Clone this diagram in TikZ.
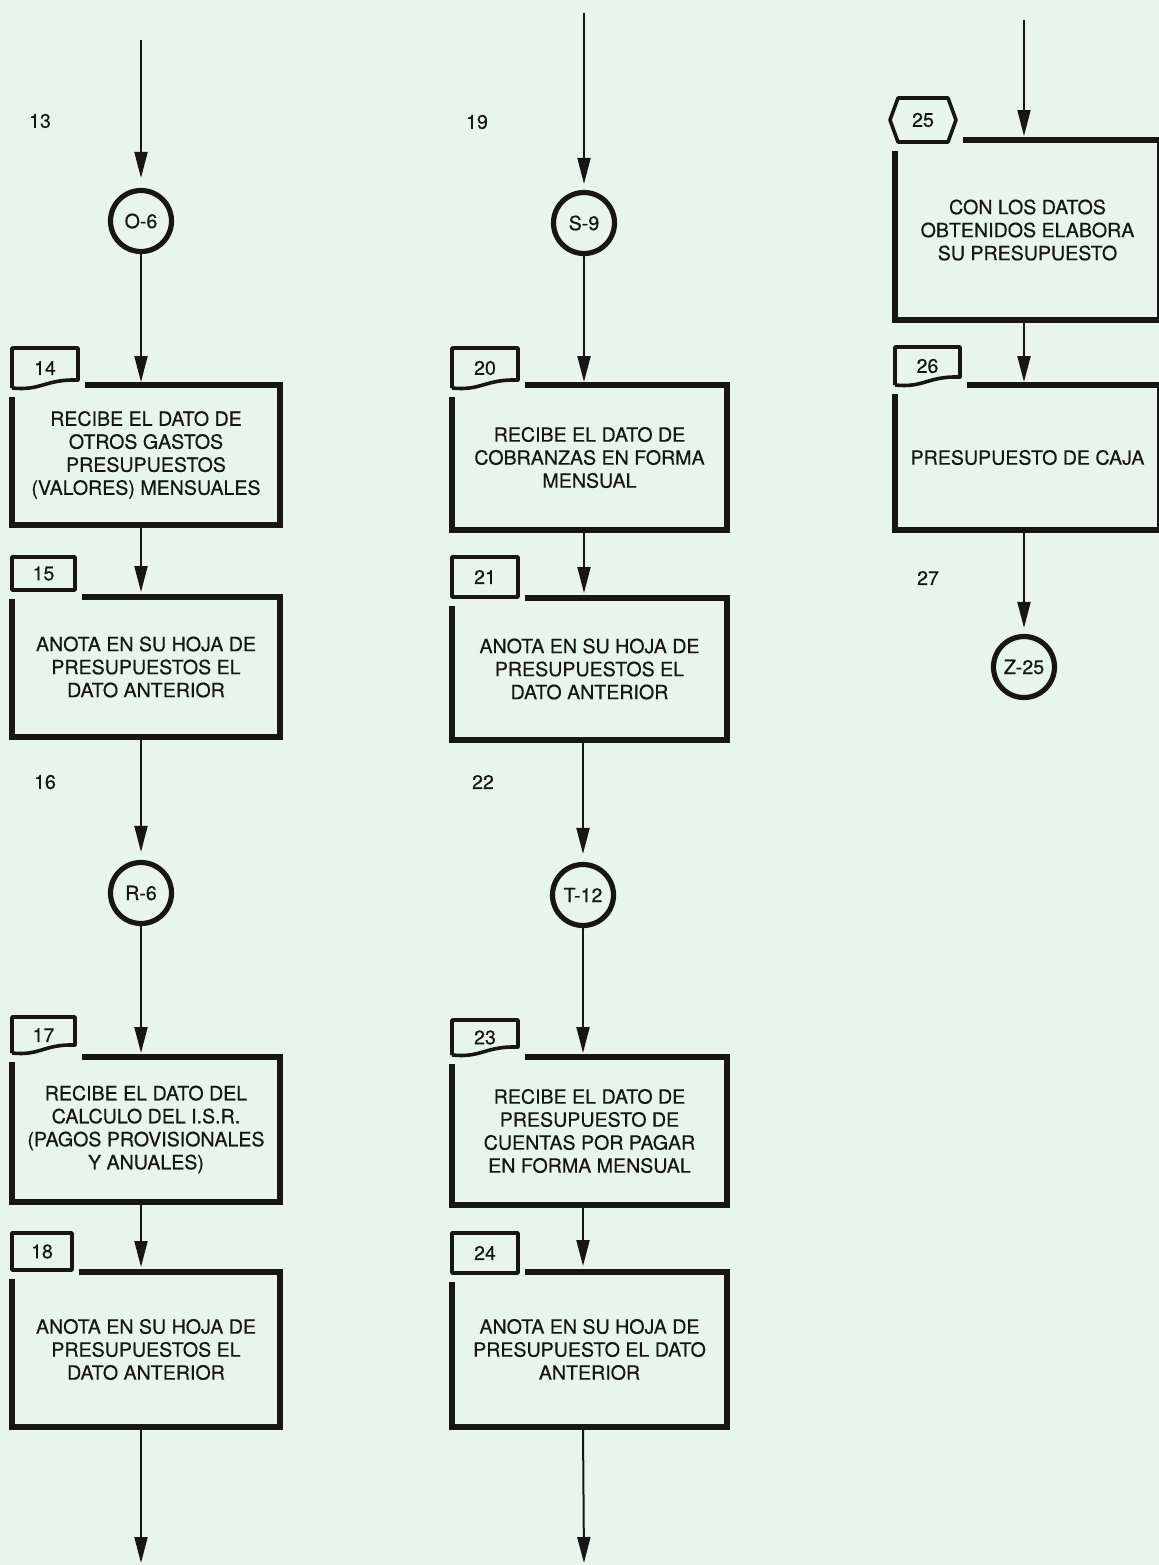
\documentclass[tikz,border=0pt]{standalone}
\usepackage{fontspec}
\setmainfont{TeX Gyre Heros}
\newfontfamily\heavyfont[FakeBold=0.45]{TeX Gyre Heros}
\usetikzlibrary{arrows.meta,calc}
\definecolor{paper}{RGB}{232,245,237}
\definecolor{ink}{RGB}{22,22,22}
\tikzset{
  boxnode/.style={inner sep=0pt, outer sep=0pt, align=center, font=\heavyfont\fontsize{9.8pt}{11.5pt}\selectfont, text=ink},
  boxline/.style={draw=ink, line width=2.8pt, line join=miter},
  tagnode/.style={inner sep=0pt, outer sep=0pt, font=\heavyfont\fontsize{9.8pt}{11pt}\selectfont, text=ink},
  tagline/.style={draw=ink, line width=1.8pt, line join=round},
  conncircle/.style={circle, draw=ink, line width=2.6pt, minimum size=30.5pt, inner sep=0pt, font=\heavyfont\fontsize{9.8pt}{10pt}\selectfont, text=ink},
  conn/.style={draw=ink, line width=1pt, -{Triangle[length=13pt,width=6.5pt]}},
  numlabel/.style={font=\heavyfont\fontsize{9.8pt}{11pt}\selectfont, text=ink, inner sep=0pt},
}
\newcommand\myplaintag[1]{\draw[tagline] (#1.north west) rectangle (#1.south east);}
\newcommand\mywavytag[1]{\draw[tagline] (#1.south west) -- (#1.north west) -- (#1.north east) -- ($(#1.south east)+(0,-8)$) .. controls ($(#1.south west)!0.5!(#1.south east)+(0,-9)$) and ($(#1.south west)!0.45!(#1.south east)+(0,3)$) .. (#1.south west);}
\newcommand\myprocframe[2]{\draw[boxline] ($(#2.north east |- #1.north)+(7,0)$) -- (#1.north east) -- (#1.south east) -- (#1.south west) -- ($(#1.west |- #2.south)+(0,9)$);}
\begin{document}
\begin{tikzpicture}[x=0.5pt,y=-0.5pt]
\useasboundingbox (0,0) rectangle (1159,1565);
\fill[paper] (0,0) rectangle (1159,1565);

% ---------- labels ----------
\node[numlabel] (l13) at (40,121) {13};
\node[numlabel] (l19) at (477,122) {19};
\node[numlabel] (l16) at (45,782) {16};
\node[numlabel] (l22) at (483,782) {22};
\node[numlabel] (l27) at (928,578) {27};

% ---------- column 1 ----------
\coordinate (s1) at (141,40);
\node[conncircle] (c06) at (141,221) {O-6};
\node[boxnode, minimum width=134pt, minimum height=70pt] (b14) at (146,455) {RECIBE EL DATO DE\\OTROS GASTOS\\PRESUPUESTOS\\(VALORES) MENSUALES};
\node[tagnode, minimum width=33pt, minimum height=20pt] (t14) at (45,368) {14};
\node[boxnode, minimum width=134pt, minimum height=70pt] (b15) at (146,667) {ANOTA EN SU HOJA DE\\PRESUPUESTOS EL\\DATO ANTERIOR};
\node[tagnode, minimum width=31.5pt, minimum height=16.5pt] (t15) at (43.5,573.5) {15};
\node[conncircle] (cr6) at (141,893) {R-6};
\node[boxnode, minimum width=134pt, minimum height=72.5pt] (b17) at (146,1129.5) {RECIBE EL DATO DEL\\CALCULO DEL I.S.R.\\(PAGOS PROVISIONALES\\Y ANUALES)};
\node[tagnode, minimum width=31.5pt, minimum height=18pt] (t17) at (43.5,1035) {17};
\node[boxnode, minimum width=134pt, minimum height=77.5pt] (b18) at (146,1349.5) {ANOTA EN SU HOJA DE\\PRESUPUESTOS EL\\DATO ANTERIOR};
\node[tagnode, minimum width=30pt, minimum height=18.5pt] (t18) at (42,1251.5) {18};
\coordinate (e1) at (141,1563);

% ---------- column 2 ----------
\coordinate (s2) at (584,13);
\node[conncircle] (cs9) at (584,223) {S-9};
\node[boxnode, minimum width=137.5pt, minimum height=72.5pt] (b20) at (589.5,457.5) {RECIBE EL DATO DE\\COBRANZAS EN FORMA\\MENSUAL};
\node[tagnode, minimum width=33pt, minimum height=20pt] (t20) at (485,368) {20};
\node[boxnode, minimum width=137.5pt, minimum height=71pt] (b21) at (589.5,669) {ANOTA EN SU HOJA DE\\PRESUPUESTOS EL\\DATO ANTERIOR};
\node[tagnode, minimum width=33pt, minimum height=20pt] (t21) at (485,577) {21};
\node[conncircle] (ct12) at (583,895) {T-12};
\node[boxnode, minimum width=137.5pt, minimum height=74pt] (b23) at (589.5,1131) {RECIBE EL DATO DE\\PRESUPUESTO DE\\CUENTAS POR PAGAR\\EN FORMA MENSUAL};
\node[tagnode, minimum width=33pt, minimum height=17.5pt] (t23) at (485,1037.5) {23};
\node[boxnode, minimum width=137.5pt, minimum height=77.5pt] (b24) at (589.5,1349.5) {ANOTA EN SU HOJA DE\\PRESUPUESTO EL DATO\\ANTERIOR};
\node[tagnode, minimum width=33pt, minimum height=20pt] (t24) at (485,1253) {24};
\coordinate (e2) at (584,1563);

% ---------- column 3 ----------
\coordinate (s3) at (1024,20);
\node[boxnode, minimum width=132.5pt, minimum height=90pt] (b25) at (1027.5,230) {CON LOS DATOS\\OBTENIDOS ELABORA\\SU PRESUPUESTO};
\node[tagnode, minimum width=33pt, minimum height=22pt] (t25) at (923,120) {25};
\node[boxnode, minimum width=132.5pt, minimum height=72.5pt] (b26) at (1027.5,457.5) {PRESUPUESTO DE CAJA};
\node[tagnode, minimum width=32.5pt, minimum height=19pt] (t26) at (927.5,366) {26};
\node[conncircle] (cz25) at (1024,667) {Z-25};

% ---------- frames ----------
\myprocframe{b14}{t14} \mywavytag{t14}
\myprocframe{b15}{t15} \myplaintag{t15}
\myprocframe{b17}{t17} \mywavytag{t17}
\myprocframe{b18}{t18} \myplaintag{t18}
\myprocframe{b20}{t20} \mywavytag{t20}
\myprocframe{b21}{t21} \myplaintag{t21}
\myprocframe{b23}{t23} \mywavytag{t23}
\myprocframe{b24}{t24} \myplaintag{t24}
\myprocframe{b25}{t25}
\draw[tagline] ($(t25.north west)+(8,0)$) -- ($(t25.north east)+(-8,0)$) -- (t25.east) -- ($(t25.south east)+(-8,0)$) -- ($(t25.south west)+(8,0)$) -- (t25.west) -- cycle;
\myprocframe{b26}{t26} \mywavytag{t26}

% ---------- connectors ----------
\draw[conn, shorten >=5pt] (s1) -- (c06);
\draw[conn, shorten >=1.5pt] (c06) -- (c06 |- b14.north);
\draw[conn, shorten >=2.5pt] (b14.south -| c06) -- (b15.north -| c06);
\draw[conn, shorten >=4pt] (b15.south -| c06) -- (cr6);
\draw[conn, shorten >=2pt] (cr6) -- (cr6 |- b17.north);
\draw[conn, shorten >=2.5pt] (b17.south -| cr6) -- (b18.north -| cr6);
\draw[conn] (b18.south -| cr6) -- (e1);

\draw[conn, shorten >=3pt] (s2) -- (cs9);
\draw[conn, shorten >=1.5pt] (cs9) -- (cs9 |- b20.north);
\draw[conn, shorten >=2.5pt] (b20.south -| cs9) -- (b21.north -| cs9);
\draw[conn, shorten >=4pt] (b21.south -| ct12) -- (ct12);
\draw[conn, shorten >=2pt] (ct12) -- (ct12 |- b23.north);
\draw[conn, shorten >=3pt] (b23.south -| ct12) -- (b24.north -| ct12);
\draw[conn] (b24.south -| ct12) -- (e2);

\draw[conn, shorten >=2pt] (s3) -- (s3 |- b25.north);
\draw[conn, shorten >=1.5pt] (b25.south -| s3) -- (b26.north -| s3);
\draw[conn, shorten >=3pt] (b26.south -| cz25) -- (cz25);
\end{tikzpicture}
\end{document}
